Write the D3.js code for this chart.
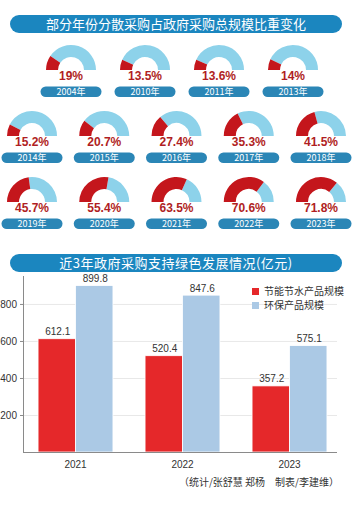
<!DOCTYPE html>
<html>
<head>
<meta charset="utf-8">
<script src="https://cdn.jsdelivr.net/npm/d3@7"></script>
<style>
  html, body { margin: 0; padding: 0; background: #fff; }
  svg { display: block; }
</style>
</head>
<body>
<svg id="chart" width="358" height="505"></svg>
<script>
// ---------- data ----------
const title1 = "部分年份分散采购占政府采购总规模比重变化";
const title2 = "近3年政府采购支持绿色发展情况(亿元)";
const shareYears = ["2004年","2010年","2011年","2013年","2014年","2015年","2016年","2017年","2018年","2019年","2020年","2021年","2022年","2023年"];
const shareValues = [19, 13.5, 13.6, 14, 15.2, 20.7, 27.4, 35.3, 41.5, 45.7, 55.4, 63.5, 70.6, 71.8];

const barYears = ["2021", "2022", "2023"];
const energySaving = [612.1, 520.4, 357.2];
const environmental = [899.8, 847.6, 575.1];
const seriesNames = ["节能节水产品规模", "环保产品规模"];
const yTickValues = [200, 400, 600, 800];
const footnote = "（统计/张舒慧  郑杨　制表/李建维）";

// ---------- styles ----------
const C = {
  banner: "#1b86bf", pill: "#2b86b6", gaugeBg: "#8dd2ea", gaugeRed: "#c4161c",
  pctText: "#b01e23", barRed: "#e5282a", barBlue: "#abc9e5", text: "#333",
  axis: "#8a8a8a", grid: "#e8e8e8"
};
const cjk = "'Noto Sans CJK SC', 'Noto Sans', sans-serif";
const latin = "'Liberation Sans', Arial, 'Noto Sans CJK SC', sans-serif";

const svg = d3.select("#chart");

function banner(y, text, spacing) {
  svg.append("rect").attr("x", 10).attr("y", y).attr("width", 332).attr("height", 18)
    .attr("rx", 9).attr("fill", C.banner);
  svg.append("text").attr("x", 176).attr("y", y + 9).attr("dy", "0.36em")
    .attr("text-anchor", "middle").attr("fill", "#fff")
    .attr("font-family", cjk).attr("font-size", 13).attr("letter-spacing", spacing)
    .text(text);
}

// ---------- part 1: gauges ----------
banner(15, title1, 0);

const rows = [
  { start: 0, n: 4, x0: 71, dx: 74, base: 70 },
  { start: 4, n: 5, x0: 32, dx: 72.25, base: 136 },
  { start: 9, n: 5, x0: 32, dx: 72.25, base: 202 }
];
const angle = d3.scaleLinear().domain([0, 100]).range([-Math.PI / 2, Math.PI / 2]);
const arc = d3.arc().innerRadius(13).outerRadius(25);

rows.forEach(r => {
  for (let i = 0; i < r.n; i++) {
    const k = r.start + i;
    const cx = r.x0 + i * r.dx, cy = r.base;
    const g = svg.append("g").attr("transform", `translate(${cx},${cy})`);
    g.append("path").attr("fill", C.gaugeBg)
      .attr("d", arc({ startAngle: angle(shareValues[k]), endAngle: angle(100) }));
    g.append("path").attr("fill", C.gaugeRed)
      .attr("d", arc({ startAngle: angle(0), endAngle: angle(shareValues[k]) }));
    g.append("text").attr("x", 0).attr("y", 10).attr("text-anchor", "middle")
      .attr("font-family", latin).attr("font-weight", "bold").attr("font-size", 12)
      .attr("fill", C.pctText).text(shareValues[k] + "%");
    g.append("rect").attr("x", -30.5).attr("y", 16.5).attr("width", 61).attr("height", 10.5)
      .attr("rx", 5.25).attr("fill", C.pill);
    g.append("text").attr("x", 0).attr("y", 21.9).attr("dy", "0.36em").attr("text-anchor", "middle")
      .attr("font-family", cjk).attr("font-size", 9).attr("fill", "#fff")
      .text(shareYears[k]);
  }
});

// ---------- part 2: bars ----------
banner(254, title2, 0.5);

const m = { left: 23, right: 337, top: 276, bottom: 452 };
const x = d3.scaleBand().domain(barYears).range([22, 343]).paddingInner(0.3).paddingOuter(0.15);
const xs = d3.scaleBand().domain([0, 1]).range([0, x.bandwidth()]);
const y = d3.scaleLinear().domain([0, 951]).range([m.bottom, m.top]);

// grid
svg.append("g").selectAll("line").data(yTickValues).join("line")
  .attr("x1", m.left).attr("x2", m.right)
  .attr("y1", d => y(d) + 0.5).attr("y2", d => y(d) + 0.5)
  .attr("stroke", C.grid).attr("stroke-width", 1);

// bars
const series = [energySaving, environmental];
const colors = [C.barRed, C.barBlue];
series.forEach((vals, s) => {
  svg.append("g").selectAll("rect").data(vals).join("rect")
    .attr("x", (d, i) => x(barYears[i]) + xs(s))
    .attr("y", d => y(d))
    .attr("width", xs.bandwidth())
    .attr("height", d => y(0) - y(d))
    .attr("fill", colors[s]).attr("stroke", "#fff").attr("stroke-width", 0.8);
  svg.append("g").selectAll("text").data(vals).join("text")
    .attr("x", (d, i) => x(barYears[i]) + xs(s) + xs.bandwidth() / 2 + 1)
    .attr("y", d => y(d) - 3.5)
    .attr("text-anchor", "middle").attr("font-family", latin).attr("font-size", 10)
    .attr("fill", C.text).text(d => d.toFixed(1));
});

// y axis
const yAxis = svg.append("g").attr("transform", `translate(${m.left},0)`)
  .call(d3.axisLeft(y).tickValues(yTickValues).tickSize(3).tickPadding(3).tickSizeOuter(0));
yAxis.select(".domain").attr("stroke", C.axis).attr("d", `M0.5,${m.top}V${m.bottom}`);
yAxis.selectAll(".tick line").attr("stroke", C.axis);
yAxis.selectAll(".tick text").attr("font-family", latin).attr("font-size", 10).attr("fill", C.text);

// x axis
const xAxis = svg.append("g").attr("transform", `translate(0,${m.bottom})`)
  .call(d3.axisBottom(x).tickSize(0).tickPadding(9));
xAxis.select(".domain").attr("stroke", C.axis).attr("d", `M${m.left},0.5H${m.right}`);
xAxis.selectAll(".tick text").attr("font-family", latin).attr("font-size", 10).attr("fill", C.text);

// legend
seriesNames.forEach((name, i) => {
  const ly = 288 + i * 14;
  svg.append("rect").attr("x", 252).attr("y", ly).attr("width", 7).attr("height", 7).attr("fill", colors[i]);
  svg.append("text").attr("x", 264).attr("y", ly + 3.5).attr("dy", "0.36em")
    .attr("font-family", cjk).attr("font-size", 10).attr("fill", C.text).text(name);
});

// footnote
svg.append("text").attr("x", 339).attr("y", 482).attr("dy", "0.36em").attr("text-anchor", "end")
  .attr("font-family", cjk).attr("font-size", 10).attr("fill", C.text).text(footnote);
</script>
</body>
</html>
